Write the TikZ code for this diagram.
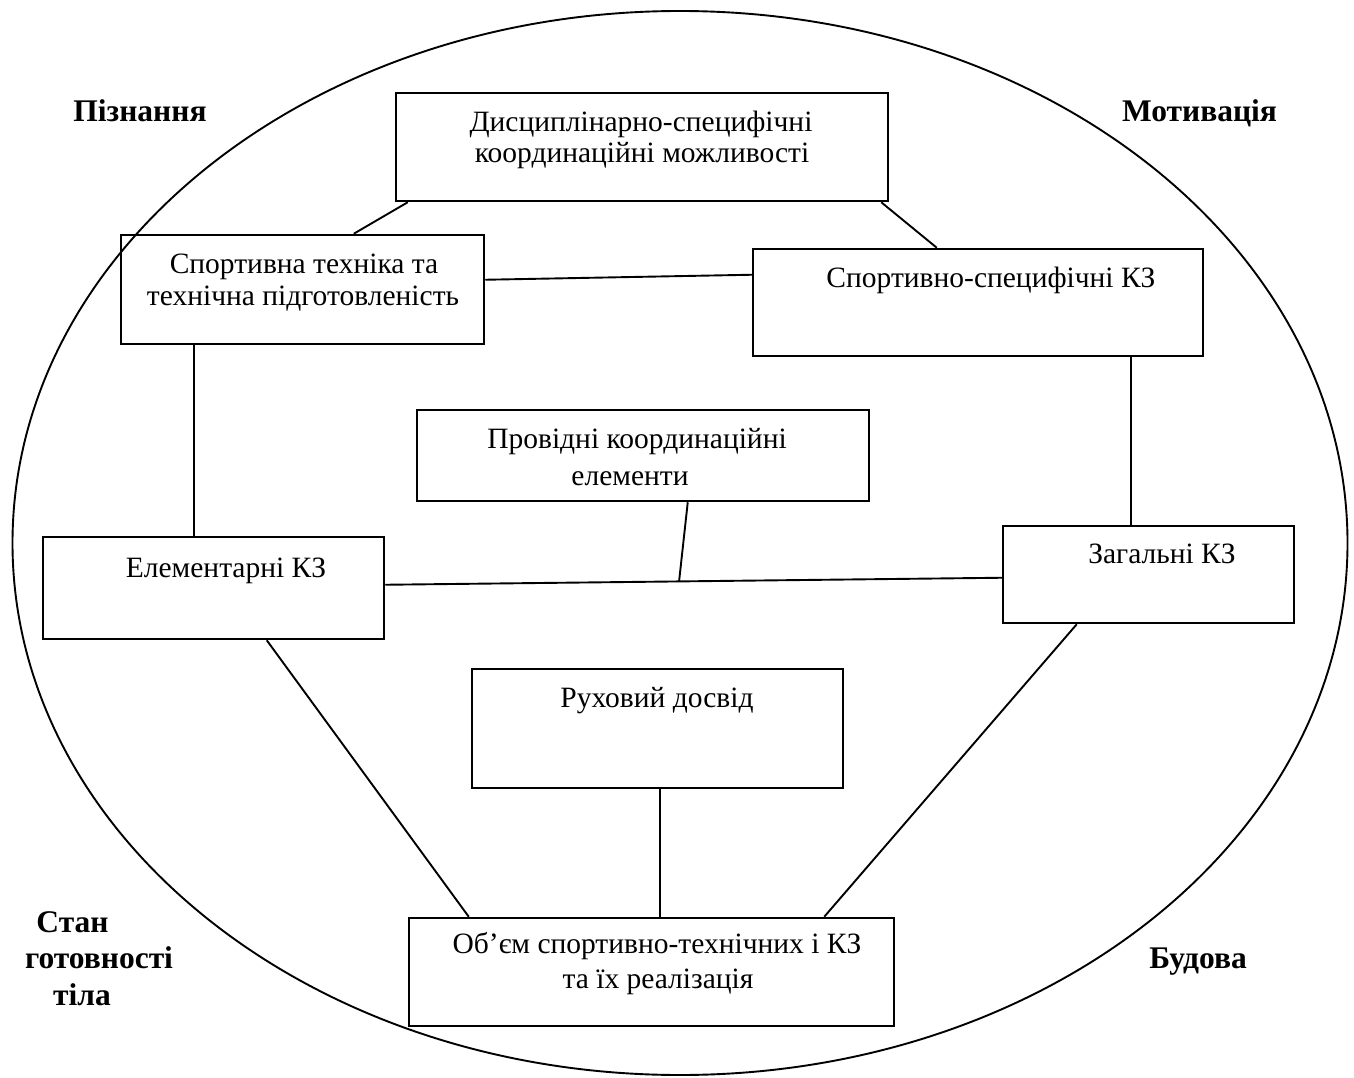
\documentclass[tikz,border=0pt]{standalone}
\usepackage{fontspec}
\setmainfont{Liberation Serif}
\usetikzlibrary{shapes.geometric,calc}
\begin{document}
\begin{tikzpicture}[x=1pt,y=-1pt,
  box/.style={draw, line width=2.5pt, rectangle, inner sep=0pt},
  lbl/.style={anchor=base, inner sep=0pt, font=\fontsize{29.5}{33}\selectfont},
  side/.style={anchor=base, inner sep=0pt, font=\fontsize{31.5}{35}\selectfont\bfseries},
  link/.style={draw, line width=1.9pt}]
\useasboundingbox (0,0) rectangle (1354,1078);
\node[draw, ellipse, line width=1.9pt, inner sep=0pt, minimum width=1335pt, minimum height=1064pt] (oval) at (680,543) {};

% boxes
\node[box, minimum width=492pt, minimum height=108pt] (b1) at (642,147) {};
\node[box, minimum width=363pt, minimum height=109pt] (b2) at (302.5,289.5) {};
\node[box, minimum width=450pt, minimum height=107pt] (b3) at (978,302.5) {};
\node[box, minimum width=452pt, minimum height=91pt] (b4) at (643,455.5) {};
\node[box, minimum width=341pt, minimum height=102pt] (b5) at (213.5,588) {};
\node[box, minimum width=291pt, minimum height=97pt] (b6) at (1148.5,574.5) {};
\node[box, minimum width=371pt, minimum height=119pt] (b7) at (657.5,728.5) {};
\node[box, minimum width=485pt, minimum height=108pt] (b8) at (651.5,972) {};

% box texts
\node[lbl] (t1a) at (641,132) {Дисциплінарно-специфічні};
\node[lbl] (t1b) at (642,163) {координаційні можливості};
\node[lbl] (t2a) at (304,273) {Спортивна техніка та};
\node[lbl] (t2b) at (303,305) {технічна підготовленість};
\node[lbl] (t3) at (991,287) {Спортивно-специфічні КЗ};
\node[lbl] (t4a) at (637,448) {Провідні координаційні};
\node[lbl] (t4b) at (630,485) {елементи};
\node[lbl] (t5) at (226,577) {Елементарні КЗ};
\node[lbl] (t6) at (1162,563) {Загальні КЗ};
\node[lbl] (t7) at (657,707) {Руховий досвід};
\node[lbl] (t8a) at (657,953) {Об’єм спортивно-технічних і КЗ};
\node[lbl] (t8b) at (658,988) {та їх реалізація};

% side labels
\node[side] (s1) at (140,122) {Пізнання};
\node[side] (s2) at (1199.5,122) {Мотивація};
\node[side] (s3a) at (72.5,932) {Стан};
\node[side] (s3b) at (99,968) {готовності};
\node[side] (s3c) at (82,1005) {тіла};
\node[side] (s4) at (1198,968) {Будова};

% connectors
\draw[link] ([xshift=13pt]b1.south west) -- ([xshift=234pt]b2.north west);
\draw[link] ([xshift=-8pt]b1.south east) -- ([xshift=185pt]b3.north west);
\draw[link] ([yshift=-46pt]b2.north east) -- ([yshift=-27pt]b3.north west);
\draw[link] ([xshift=74pt]b2.south west) -- ([xshift=152pt]b5.north west);
\draw[link] ([xshift=379pt]b3.south west) -- ([xshift=129pt]b6.north west);
\coordinate (h1) at ([yshift=-49pt]b5.north east);
\coordinate (h2) at ([yshift=-53pt]b6.north west);
\draw[link] (h1) -- (h2);
\coordinate (hm) at ($(h1)!0.4766!(h2)$);
\draw[link] ([xshift=272pt]b4.south west) -- (hm);
\draw[link] ([xshift=225pt]b5.south west) -- ([xshift=61pt]b8.north west);
\draw[link] ([xshift=75pt]b6.south west) -- ([xshift=-71pt]b8.north east);
\draw[link] ([xshift=189pt]b7.south west) -- ([xshift=252pt]b8.north west);
\end{tikzpicture}
\end{document}
